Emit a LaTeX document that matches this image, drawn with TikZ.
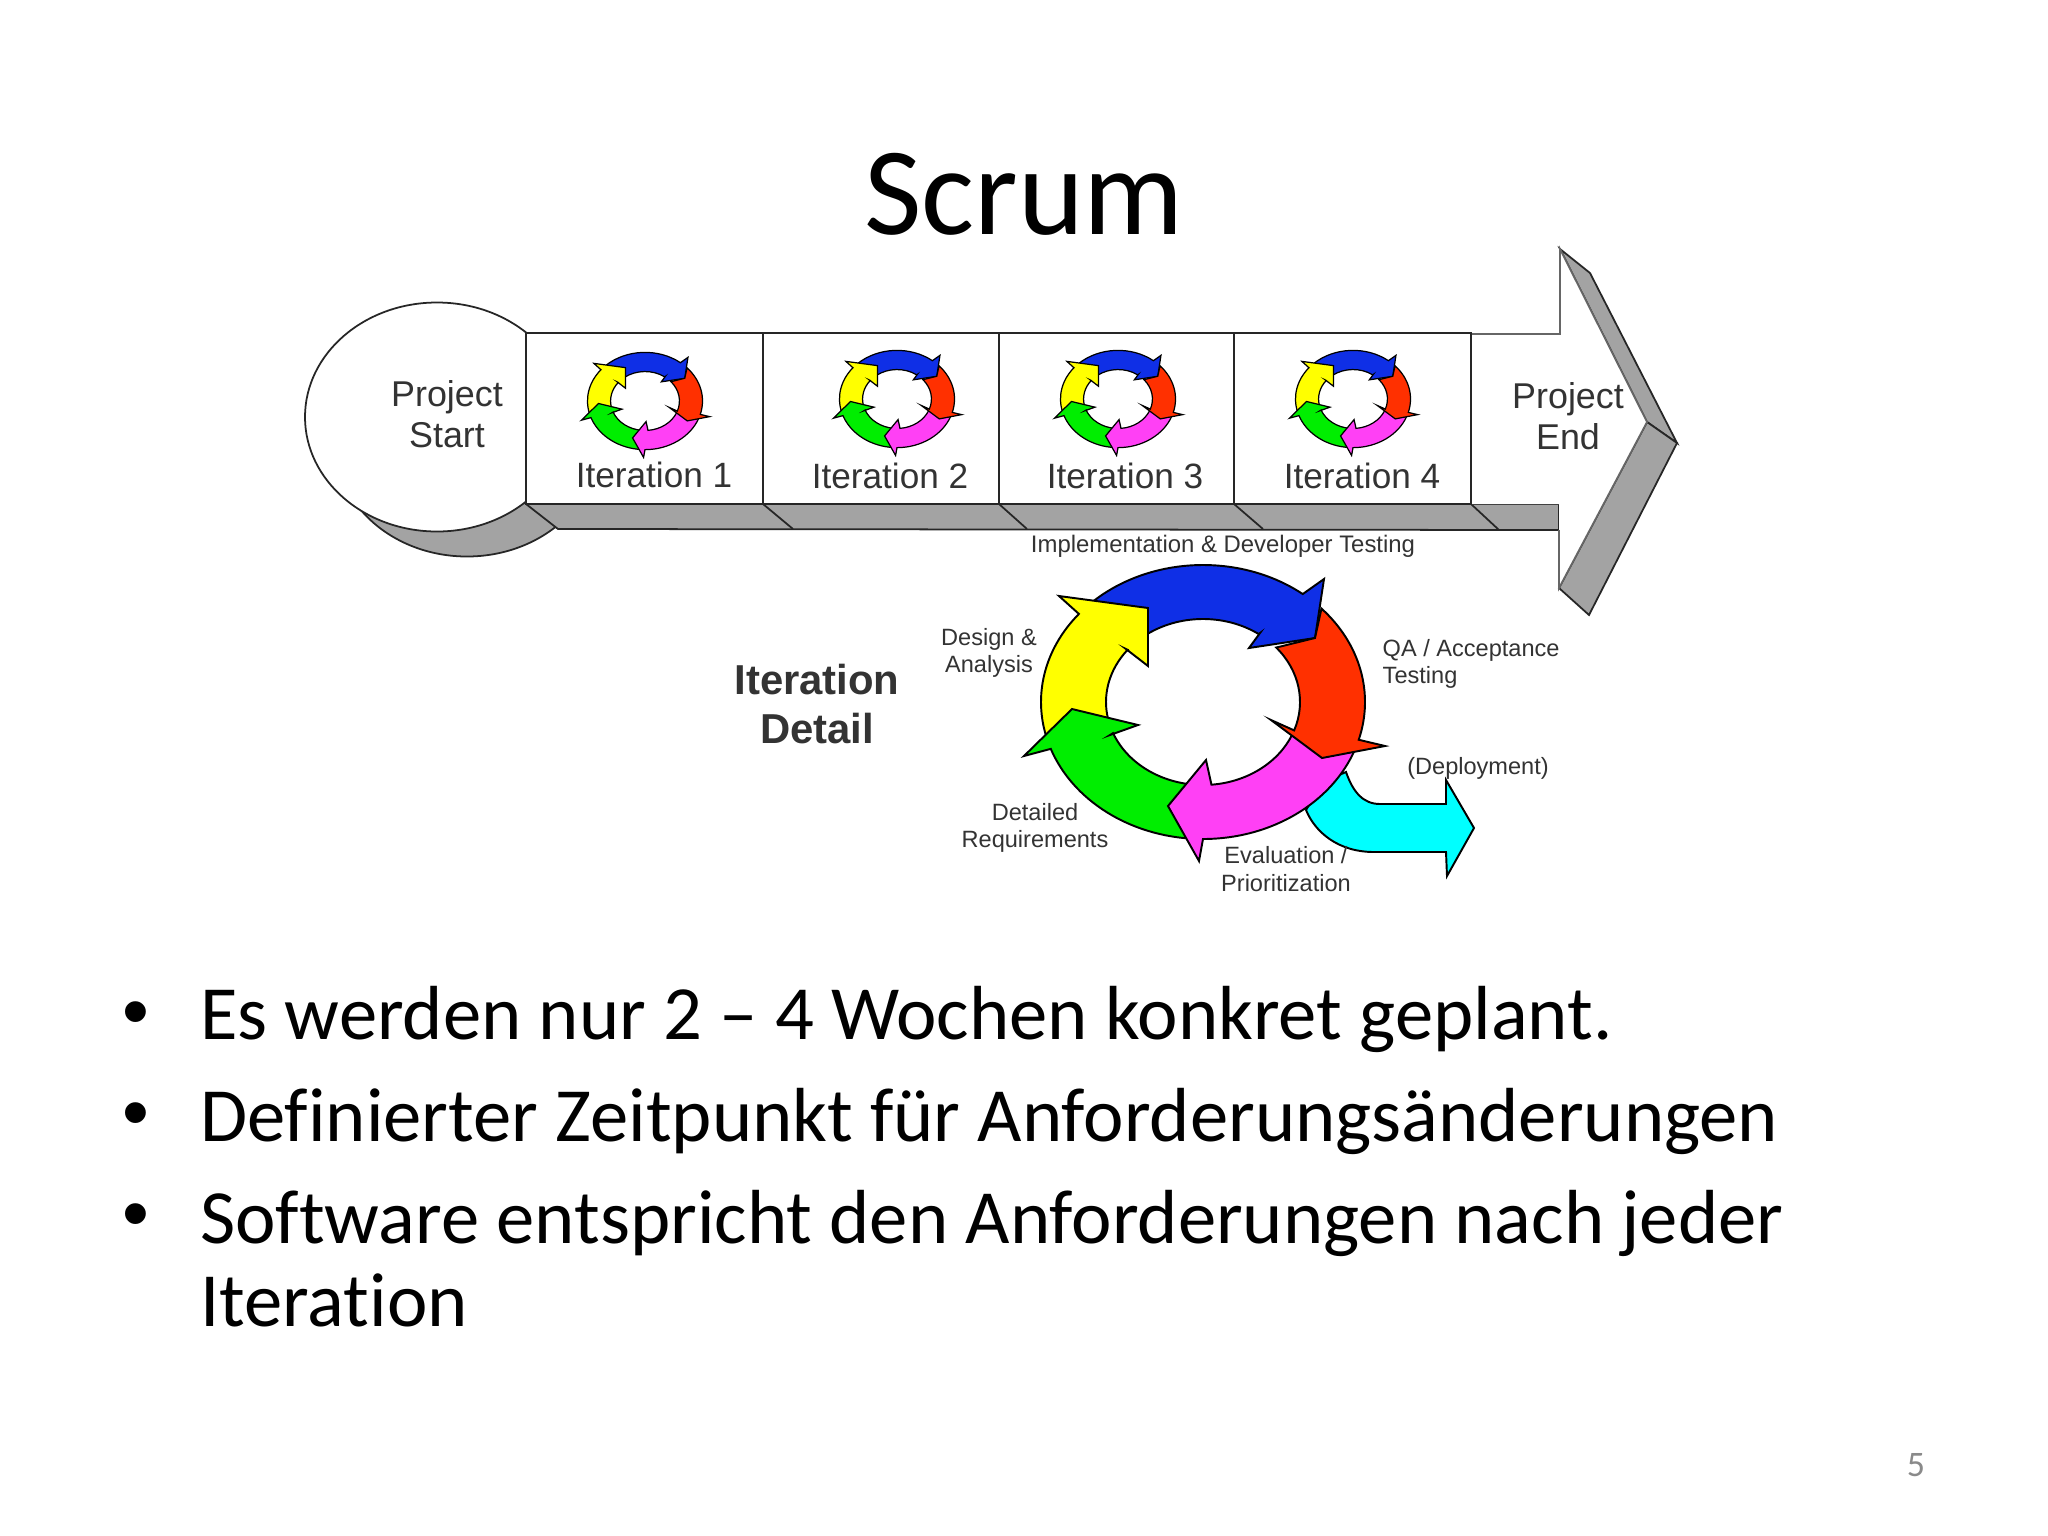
\documentclass[tikz,border=0pt]{standalone}
\usepackage{fontspec}
\setmainfont{Carlito}[Ligatures={NoCommon}]
\newfontfamily\chartfont{Liberation Sans}
\definecolor{wheelblue}{HTML}{0F2FE6}
\definecolor{wheelred}{HTML}{FF3000}
\definecolor{wheelgreen}{HTML}{00EE00}
\definecolor{wheelyellow}{HTML}{FFFF00}
\definecolor{wheelpink}{HTML}{FF40F5}
\definecolor{wheelcyan}{HTML}{00FFFF}
\definecolor{shadowgray}{HTML}{A3A3A3}
\tikzset{
	outline/.style={draw=black!85, line width=0.5pt},
	shadowface/.style={outline, fill=shadowgray},
	chart/.style 2 args={font=\chartfont\fontsize{#1}{#2}\selectfont, text=black!80, align=center, inner sep=0pt},
	bullettext/.style={anchor=base west, inner sep=0pt, font=\fontsize{21.8}{26}\selectfont},
	bulletdot/.style={anchor=base, inner sep=0pt, font=\chartfont\fontsize{21.8}{26}\selectfont}
}
\def\iterwheel[#1](#2,#3){
	\begin{scope}[shift={(#2,#3)},yscale=-1,#1,draw=black,line join=miter]
		\draw[fill=wheelblue] (133:162 and 137) arc[start angle=133,end angle=52,x radius=162,y radius=137] -- (121,123) -- (112,64) -- (46,54) -- (57,69) -- (55:97 and 83) arc[start angle=55,end angle=127,x radius=97,y radius=83] -- cycle;
		\draw[fill=wheelyellow] (196:162 and 137) arc[start angle=196,end angle=140,x radius=162,y radius=137] -- (-144,106) -- (-55,94) -- (-55,36) -- (-77,53) -- (141:97 and 83) arc[start angle=141,end angle=193,x radius=97,y radius=83] -- cycle;
		\draw[fill=wheelgreen] (267:162 and 137) arc[start angle=267,end angle=200,x radius=162,y radius=137] -- (-179,-54) -- (-131,-7) -- (-65,-23) -- (-93,-33) -- (202:97 and 83) arc[start angle=202,end angle=265,x radius=97,y radius=83] -- cycle;
		\draw[fill=wheelpink] (-20:162 and 137) arc[start angle=-20,end angle=-90,x radius=162,y radius=137] -- (-4,-159) -- (-35,-104) -- (3,-58) -- (-85:97 and 83) arc[start angle=-85,end angle=-23,x radius=97,y radius=83] -- cycle;
		\draw[fill=wheelred] (43:162 and 137) arc[start angle=43,end angle=-16,x radius=162,y radius=137] -- (182,-44) -- (119,-56) -- (68,-18) -- (-20:97 and 83) arc[start angle=-20,end angle=41,x radius=97,y radius=83] -- (112,64) -- cycle;
	\end{scope}
}

\begin{document}
\begin{tikzpicture}[x=0.01cm,y=-0.01cm]
	%%%%% START %%%%%
	\useasboundingbox[fill=white] (0,0) rectangle (2048,1536);

	\node[anchor=base, inner sep=0pt, font=\fontsize{35.6}{40}\selectfont] (title) at (1024,234) {Scrum};

	% start of the big arrow
	\draw[shadowface] (467,442) ellipse (132 and 114.5);
	\draw[outline, fill=white] (437,417) ellipse (132 and 114.5);
	\draw[shadowface] (526,504) -- (1559,504) -- (1559,530) -- (558,529) -- cycle;
	\draw[outline] (763,504) -- (793,529);
	\draw[outline] (999,504) -- (1027,529);
	\draw[outline] (1234,504) -- (1263,529);
	\draw[outline] (1471,504) -- (1499,530);

	% head of the big arrow
	\draw[shadowface] (1560,249) -- (1590,273) -- (1677,443) -- (1647,422) -- cycle;
	\draw[shadowface] (1647,422) -- (1677,443) -- (1589,615) -- (1559,588) -- cycle;
	\fill[white] (1471,334) -- (1560,334) -- (1560,249) -- (1647,422) -- (1559,588) -- (1559,530) -- (1559,504) -- (1471,504) -- cycle;
	\draw[draw=black!60, line width=0.5pt] (1471,334) -- (1560,334) -- (1560,249) -- (1647,422) -- (1559,588) -- (1559,530);

	% iteration boxes
	\draw[outline, fill=white] (526,333) rectangle (763,504);
	\draw[outline, fill=white] (763,333) rectangle (999,504);
	\draw[outline, fill=white] (999,333) rectangle (1234,504);
	\draw[outline, fill=white] (1234,333) rectangle (1471,504);

	\iterwheel[scale=0.355, line width=0.35pt](645,401)
	\iterwheel[scale=0.355, line width=0.35pt](897,399)
	\iterwheel[scale=0.355, line width=0.35pt](1118,399)
	\iterwheel[scale=0.355, line width=0.35pt](1353,399)

	\node[chart={10.2}{11.7}] (start) at (447,414) {Project\\Start};
	\node[chart={10.2}{11.7}] (end) at (1568,416) {Project\\End};
	\node[chart={10}{12}] (iter1) at (654,475) {Iteration 1};
	\node[chart={10}{12}] (iter2) at (890,476) {Iteration 2};
	\node[chart={10}{12}] (iter3) at (1125,476) {Iteration 3};
	\node[chart={10}{12}] (iter4) at (1362,476) {Iteration 4};

	% iteration detail
	\draw[line width=0.55pt, fill=wheelcyan] (1323,782) -- (1346,772) .. controls (1353,792) and (1363,804) .. (1380,804) -- (1446,804) -- (1446,780) -- (1474,828) -- (1447,876) -- (1446,852) -- (1374,852) .. controls (1338,852) and (1315,832) .. (1306,810) -- cycle;
	\iterwheel[line width=0.55pt](1203,702)

	\node[chart={11.9}{13.8}, font=\chartfont\bfseries\fontsize{11.9}{13.8}\selectfont] (detail) at (817,704) {Iteration\\Detail};
	\node[chart={6.8}{8}] (impl) at (1223,546) {Implementation \& Developer Testing};
	\node[chart={6.7}{7.9}] (design) at (989,653) {Design \&\\Analysis};
	\node[chart={6.7}{7.9}, anchor=west, align=left] (qa) at (1382,664) {QA / Acceptance\\Testing};
	\node[chart={6.7}{8}] (deploy) at (1478,768) {(Deployment)};
	\node[chart={6.7}{7.9}] (require) at (1035,828) {Detailed\\Requirements};
	\node[chart={6.7}{7.9}] (eval) at (1286,869) {Evaluation /\\Prioritization};

	% slide text
	\node[bulletdot] (dot1) at (136,1037) {•};
	\node[bulletdot] (dot2) at (136,1138) {•};
	\node[bulletdot] (dot3) at (136,1239) {•};
	\node[bullettext] (line1) at (199.5,1039.5) {Es werden nur 2 – 4 Wochen konkret geplant.};
	\node[bullettext] (line2) at (199.5,1141) {Definierter Zeitpunkt für Anforderungsänderungen};
	\node[bullettext] (line3) at (199.5,1243) {Software entspricht den Anforderungen nach jeder};
	\node[bullettext] (line4) at (199.5,1326) {Iteration};

	\node[anchor=base, inner sep=0pt, text=black!46, font=\fontsize{10.2}{12}\selectfont] (page) at (1916,1476) {5};
	%%%%% END %%%%%
\end{tikzpicture}
\end{document}
